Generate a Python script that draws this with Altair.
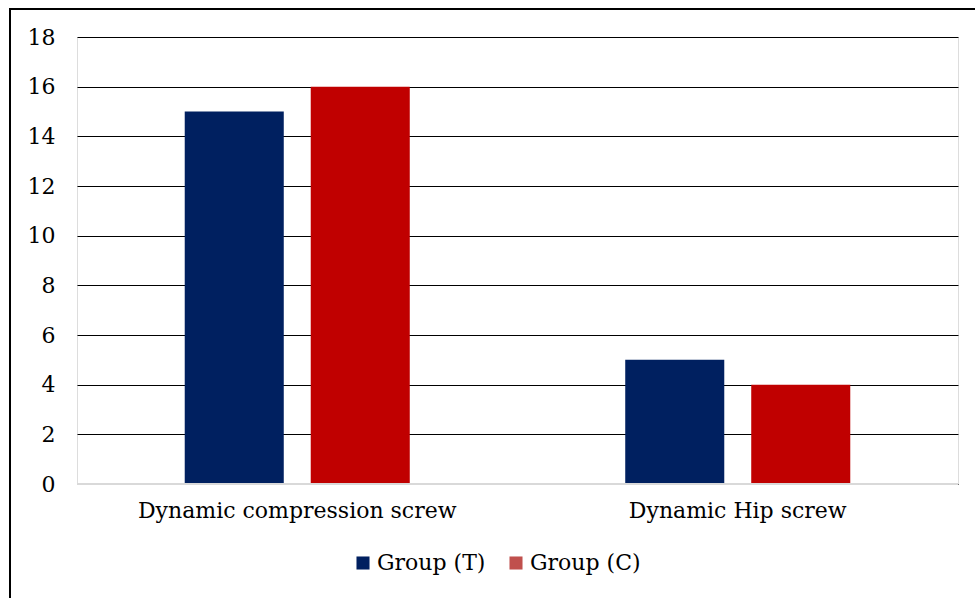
import altair as alt
import pandas as pd

categories = ["Dynamic compression screw", "Dynamic Hip screw"]
groups = ["Group (T)", "Group (C)"]
group_t = [15, 5]
group_c = [16, 4]

rows = []
for i, c in enumerate(categories):
    rows.append({"category": c, "group": groups[0], "value": group_t[i]})
    rows.append({"category": c, "group": groups[1], "value": group_c[i]})
df = pd.DataFrame(rows)

FONT = "DejaVu Serif"
FS = 22
W, H = 881, 447

x_enc = alt.X("category:N", sort=categories, title=None,
              scale=alt.Scale(paddingInner=0, paddingOuter=0),
              axis=alt.Axis(labelAngle=0, ticks=False, domain=False, labelLimit=0,
                            labelFontSize=FS, labelFont=FONT, labelColor="#000000",
                            labelPadding=16))
xoff_enc = alt.XOffset("group:N", sort=groups,
                       scale=alt.Scale(paddingInner=0.214, paddingOuter=0.855))
y_enc = alt.Y("value:Q", title=None,
              scale=alt.Scale(domain=[0, 18]),
              axis=alt.Axis(values=list(range(0, 19, 2)), ticks=False, domain=False,
                            labelFontSize=FS, labelFont=FONT, labelColor="#000000",
                            labelPadding=22, gridColor="#000000", gridWidth=1, gridOpacity=1))

bars = alt.Chart(df).mark_bar().encode(
    x=x_enc, xOffset=xoff_enc, y=y_enc,
    color=alt.Color("group:N", sort=groups,
                    scale=alt.Scale(domain=groups, range=["#002060", "#C00000"]),
                    legend=None),
)

legend_layer = alt.Chart(df).mark_square(opacity=0).encode(
    x=x_enc, xOffset=xoff_enc, y=y_enc,
    color=alt.Color("group:N", sort=groups,
                    scale=alt.Scale(domain=groups, range=["#002060", "#C0504D"]),
                    legend=alt.Legend(title=None, orient="none", direction="horizontal",
                                      legendX=275, legendY=515,
                                      symbolType="square", symbolSize=170,
                                      symbolStrokeWidth=0, symbolOpacity=1,
                                      labelFont=FONT, labelFontSize=FS, labelColor="#000000",
                                      labelOffset=3, columnPadding=19, labelLimit=0)),
)

zero = alt.Chart(pd.DataFrame({"v": [0]})).mark_rule(color="#D9D9D9", strokeWidth=2).encode(
    y="v:Q"
)

frame_left = alt.Chart(pd.DataFrame({"v": [0]})).mark_rule(color="#000000", strokeWidth=2).encode(
    x=alt.value(-67), y=alt.value(-28), y2=alt.value(H + 200)
)
frame_top = alt.Chart(pd.DataFrame({"v": [0]})).mark_rule(color="#000000", strokeWidth=2).encode(
    x=alt.value(-68), x2=alt.value(W + 100), y=alt.value(-28)
)

chart = alt.layer(bars, legend_layer, zero, frame_left, frame_top).resolve_scale(
    color="independent"
).properties(
    width=W, height=H,
    autosize=alt.AutoSizeParams(type="none"),
    padding={"left": 77, "top": 37, "right": 17, "bottom": 114},
).configure_view(stroke=None).configure(background="#ffffff")

chart.save("out.html", embed_options={"renderer": "svg", "actions": False})
